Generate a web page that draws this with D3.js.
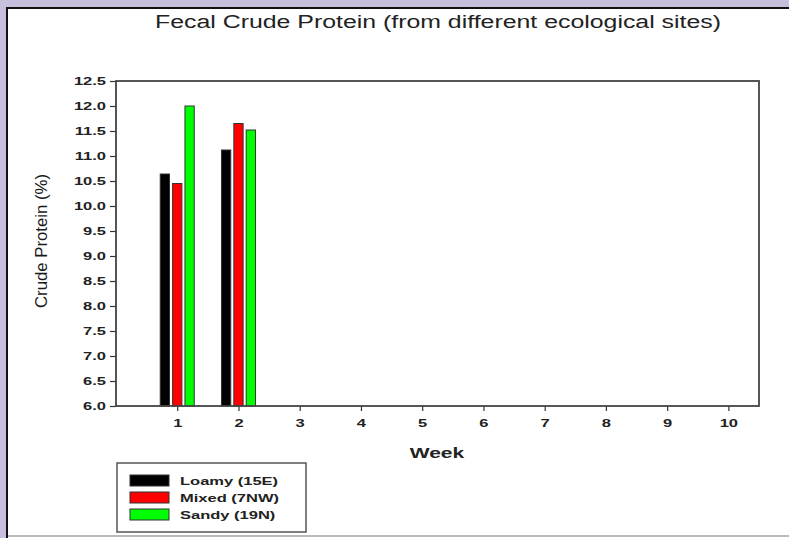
<!DOCTYPE html>
<html lang="en">
<head>
    <meta charset="UTF-8">
    <title>Fecal Crude Protein</title>
    <script src="https://d3js.org/d3.v7.min.js"></script>
    <style>
        body {
            margin: 0;
            background: #c8bfdc;
        }
        svg {
            display: block;
            font-family: "Liberation Sans", Arial, sans-serif;
        }
        .bold {
            font-weight: bold;
            fill: #222;
        }
    </style>
</head>
<body>
<div id="chart"></div>
<script>
    const width = 789;
    const height = 538;

    // Daten
    const weeks = [1, 2, 3, 4, 5, 6, 7, 8, 9, 10];
    const sites = ["Loamy (15E)", "Mixed (7NW)", "Sandy (19N)"];
    const siteColors = ["#000000", "#ff0000", "#00ff00"];
    const measuredWeeks = [1, 2];
    const loamy = [10.64, 11.12];
    const mixed = [10.45, 11.65];
    const sandy = [12.0, 11.52];
    const yTicks = d3.range(6, 12.51, 0.5);

    const series = [loamy, mixed, sandy];

    const svg = d3.select("#chart").append("svg")
        .attr("width", width)
        .attr("height", height);

    // weisses Panel mit Rahmen oben/links
    svg.append("rect")
        .attr("x", 6).attr("y", 7)
        .attr("width", width - 6).attr("height", height - 7)
        .attr("fill", "#fff");
    svg.append("path")
        .attr("d", `M7,${height} V8 H${width}`)
        .attr("fill", "none")
        .attr("stroke", "#111")
        .attr("stroke-width", 2);
    svg.append("line")
        .attr("x1", 8).attr("x2", width)
        .attr("y1", 536).attr("y2", 536)
        .attr("stroke", "#bbb")
        .attr("stroke-width", 2);

    const margin = {left: 116, right: 759, top: 81, bottom: 406};

    const x = d3.scaleLinear().domain([0, 10.5]).range([margin.left, margin.right]);
    const y = d3.scaleLinear().domain([6, 12.5]).range([margin.bottom, margin.top]);
    const x1 = d3.scaleBand().domain(sites).range([-17, 17]).paddingInner(0.25);

    // Balken
    sites.forEach((site, i) => {
        svg.append("g")
            .selectAll("rect")
            .data(measuredWeeks.map((w, j) => ({week: w, value: series[i][j]})))
            .join("rect")
            .attr("x", d => x(d.week) + x1(site))
            .attr("y", d => y(d.value))
            .attr("width", x1.bandwidth())
            .attr("height", d => y(6) - y(d.value))
            .attr("fill", siteColors[i])
            .attr("stroke", "#333")
            .attr("stroke-width", 1);
    });

    // Achsen
    const yAxis = svg.append("g")
        .attr("transform", `translate(${margin.left},0)`)
        .call(d3.axisLeft(y).tickValues(yTicks).tickSize(6).tickPadding(4).tickFormat(d3.format(".1f")));
    const xAxis = svg.append("g")
        .attr("transform", `translate(0,${margin.bottom})`)
        .call(d3.axisBottom(x).tickValues(weeks).tickSize(5).tickPadding(8).tickFormat(d3.format("d")));

    [yAxis, xAxis].forEach(a => {
        a.select(".domain").remove();
        a.selectAll(".tick line").attr("stroke", "#333").attr("stroke-width", 1.2);
        a.selectAll(".tick text")
            .attr("class", "bold stretch")
            .style("font-size", "11px")
            .style("font-family", "'Liberation Sans', Arial, sans-serif");
    });

    // Rahmen des Plots
    svg.append("rect")
        .attr("x", margin.left).attr("y", margin.top)
        .attr("width", margin.right - margin.left)
        .attr("height", margin.bottom - margin.top)
        .attr("fill", "none")
        .attr("stroke", "#444")
        .attr("stroke-width", 1.8);

    // Titel
    svg.append("text")
        .attr("x", 155).attr("y", 28)
        .attr("font-size", 18)
        .attr("fill", "#222")
        .attr("textLength", 566)
        .attr("lengthAdjust", "spacingAndGlyphs")
        .text("Fecal Crude Protein (from different ecological sites)");

    svg.append("text")
        .attr("transform", "translate(47,241) rotate(-90)")
        .attr("text-anchor", "middle")
        .attr("font-size", 16)
        .attr("fill", "#1a1a1a")
        .attr("textLength", 134)
        .attr("lengthAdjust", "spacingAndGlyphs")
        .text("Crude Protein (%)");

    svg.append("text")
        .attr("class", "bold stretch")
        .attr("x", 437).attr("y", 458)
        .attr("text-anchor", "middle")
        .attr("font-size", 14)
        .text("Week");

    // Legende
    const legend = svg.append("g");
    legend.append("rect")
        .attr("x", 117).attr("y", 463)
        .attr("width", 189).attr("height", 69)
        .attr("fill", "#fff")
        .attr("stroke", "#555")
        .attr("stroke-width", 1.5);

    sites.forEach((site, i) => {
        const ly = 475 + i * 17;
        legend.append("rect")
            .attr("x", 130).attr("y", ly)
            .attr("width", 39).attr("height", 11)
            .attr("fill", siteColors[i])
            .attr("stroke", "#333");
        legend.append("text")
            .attr("class", "bold stretch")
            .attr("x", 180).attr("y", ly + 10)
            .attr("font-size", 11)
            .text(site);
    });

    // Schrift horizontal strecken wie im Original
    svg.selectAll(".stretch").each(function () {
        const len = this.getComputedTextLength();
        d3.select(this)
            .attr("textLength", len * 1.5)
            .attr("lengthAdjust", "spacingAndGlyphs");
    });
</script>
</body>
</html>
